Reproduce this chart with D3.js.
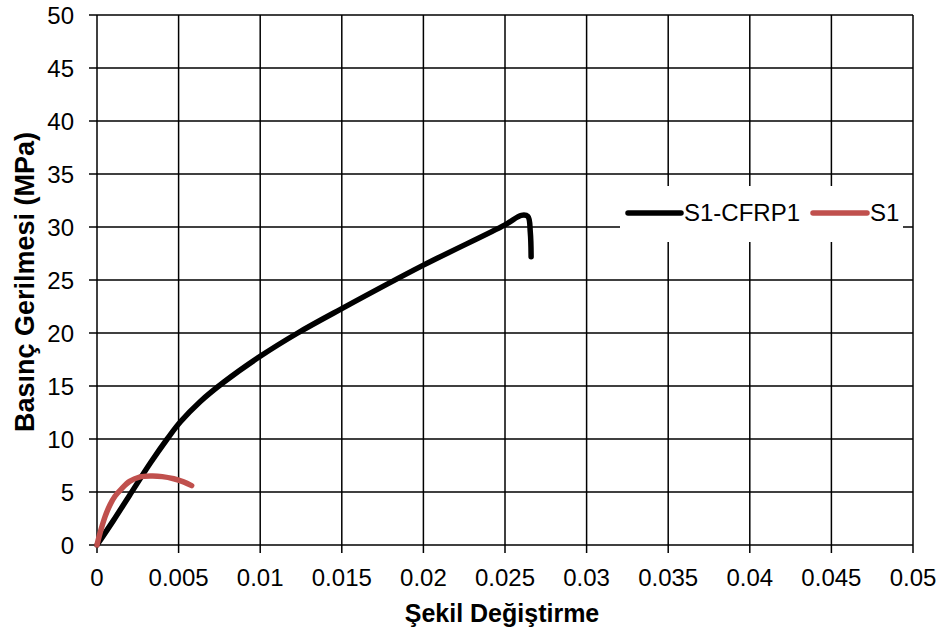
<!DOCTYPE html>
<html>
<head>
<meta charset="utf-8">
<script src="https://cdn.jsdelivr.net/npm/d3@7"></script>
<style>
  body { margin: 0; background: #fff; }
  text { font-family: "Liberation Sans", Arial, sans-serif; fill: #000; }
</style>
</head>
<body>
<div id="chart"></div>
<script>
// strain / stress readings
const cfrpStrain = [0, 0.001, 0.002, 0.0033, 0.0043, 0.0051, 0.0063, 0.0078, 0.01, 0.0123, 0.015, 0.02, 0.025, 0.026, 0.0264, 0.02655, 0.0266];
const cfrpStress = [0, 2.3, 4.7, 7.8, 10.0, 11.6, 13.5, 15.4, 17.8, 20.0, 22.3, 26.4, 30.2, 31.1, 31.0, 29.5, 27.2];
const s1Strain = [0, 0.0002, 0.0005, 0.0008, 0.0011, 0.0015, 0.002, 0.0026, 0.0033, 0.004, 0.0047, 0.0053, 0.0058];
const s1Stress = [0, 1.2, 2.7, 3.8, 4.6, 5.3, 6.0, 6.4, 6.5, 6.45, 6.25, 5.95, 5.6];

const xTicks = [0, 0.005, 0.01, 0.015, 0.02, 0.025, 0.03, 0.035, 0.04, 0.045, 0.05];
const yTicks = [0, 5, 10, 15, 20, 25, 30, 35, 40, 45, 50];

const W = 944, H = 635;
const margin = { top: 15, right: 31, bottom: 90, left: 97 };

const svg = d3.select('#chart').append('svg')
  .attr('width', W).attr('height', H);

const x = d3.scaleLinear().domain([0, 0.05]).range([margin.left, W - margin.right]);
const y = d3.scaleLinear().domain([0, 50]).range([H - margin.bottom, margin.top]);

// grid + tick marks
svg.append('g').selectAll('line').data(xTicks).enter().append('line')
  .attr('x1', d => x(d)).attr('x2', d => x(d))
  .attr('y1', y(50)).attr('y2', y(0) + 8)
  .attr('stroke', '#000').attr('stroke-width', 1.5);
svg.append('g').selectAll('line').data(yTicks).enter().append('line')
  .attr('x1', x(0) - 8).attr('x2', x(0.05))
  .attr('y1', d => y(d)).attr('y2', d => y(d))
  .attr('stroke', '#000').attr('stroke-width', 1.5);

// tick labels
svg.append('g').selectAll('text').data(xTicks).enter().append('text')
  .attr('x', d => x(d)).attr('y', y(0) + 41)
  .attr('text-anchor', 'middle').style('font-size', '24px')
  .text(d => d);
svg.append('g').selectAll('text').data(yTicks).enter().append('text')
  .attr('x', x(0) - 23).attr('y', d => y(d) + 8.5)
  .attr('text-anchor', 'end').style('font-size', '24px')
  .text(d => d);

// axis titles
svg.append('text')
  .attr('x', 502).attr('y', 622)
  .attr('text-anchor', 'middle').style('font-size', '25px').style('font-weight', 'bold')
  .text('Şekil Değiştirme');
svg.append('text')
  .attr('transform', 'translate(34, 282) rotate(-90)')
  .attr('text-anchor', 'middle').style('font-size', '27px').style('font-weight', 'bold')
  .text('Basınç Gerilmesi (MPa)');

const line = d3.line()
  .x(d => x(d[0])).y(d => y(d[1]))
  .curve(d3.curveCatmullRom.alpha(0.5));

svg.append('path')
  .datum(d3.zip(cfrpStrain, cfrpStress))
  .attr('d', line)
  .attr('fill', 'none').attr('stroke', '#000')
  .attr('stroke-width', 5.5).attr('stroke-linecap', 'round').attr('stroke-linejoin', 'round');

svg.append('path')
  .datum(d3.zip(s1Strain, s1Stress))
  .attr('d', line)
  .attr('fill', 'none').attr('stroke', '#C0504D')
  .attr('stroke-width', 5.5).attr('stroke-linecap', 'round').attr('stroke-linejoin', 'round');

// legend
const legend = svg.append('g');
legend.append('rect')
  .attr('x', 620).attr('y', 186).attr('width', 283).attr('height', 56)
  .attr('fill', '#fff');
const items = [
  { name: 'S1-CFRP1', color: '#000', x0: 628, x1: 681 },
  { name: 'S1', color: '#C0504D', x0: 813, x1: 867 }
];
items.forEach(it => {
  legend.append('line')
    .attr('x1', it.x0).attr('x2', it.x1).attr('y1', 213).attr('y2', 213)
    .attr('stroke', it.color).attr('stroke-width', 5.5).attr('stroke-linecap', 'round');
  legend.append('text')
    .attr('x', it.x1 + 3).attr('y', 221)
    .style('font-size', '24px')
    .text(it.name);
});
</script>
</body>
</html>
